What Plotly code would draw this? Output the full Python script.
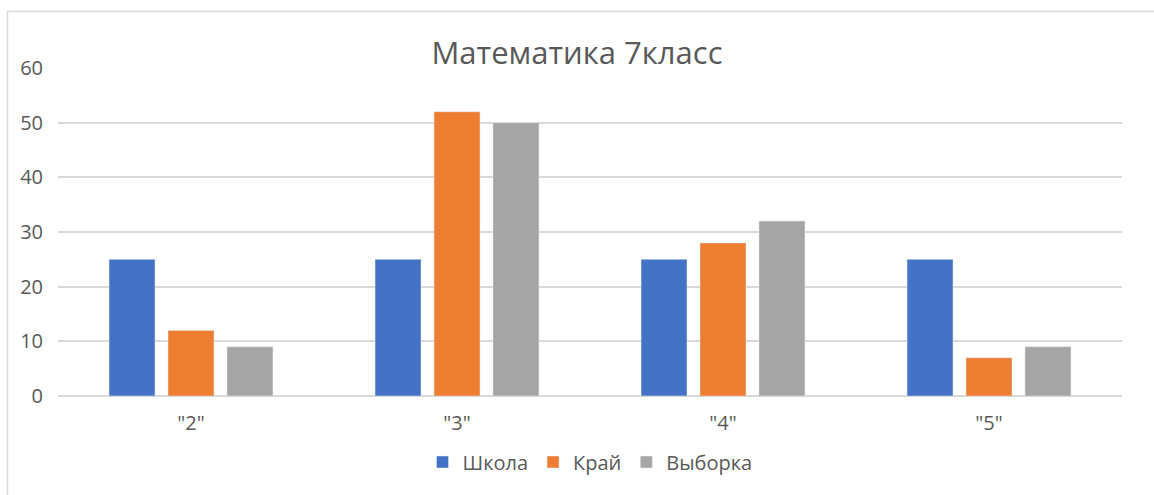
import plotly.graph_objects as go

categories = ['"2"', '"3"', '"4"', '"5"']
shkola = [25, 25, 25, 25]
krai = [12, 52, 28, 7]
vyborka = [9, 50, 32, 9]
y_ticks = [0, 10, 20, 30, 40, 50, 60]

FONT = "Open Sans"
TXT = "#595959"

fig = go.Figure()
fig.add_trace(go.Bar(name="Школа", x=categories, y=shkola, marker_color="#4472C4"))
fig.add_trace(go.Bar(name="Край", x=categories, y=krai, marker_color="#ED7D31"))
fig.add_trace(go.Bar(name="Выборка", x=categories, y=vyborka, marker_color="#A5A5A5"))

L, R, T, B = 58, 32, 68, 99
W, H = 1154, 495
pw, ph = W - L - R, H - T - B

def px2x(px):
    return (px - L) / pw

def py2y(py):
    return (H - B - py) / ph

fig.update_layout(
    width=W, height=H,
    margin=dict(l=L, r=R, t=T, b=B),
    paper_bgcolor="white", plot_bgcolor="white",
    barmode="group", bargap=0.335, bargroupgap=0.22,
    font=dict(family=FONT, color=TXT, size=20),
    title=dict(text="Математика 7класс", x=0.5, xanchor="center",
               y=1 - 53 / H, yanchor="middle",
               font=dict(family=FONT, size=31, color=TXT)),
    xaxis=dict(showgrid=False, showline=False, ticks="",
               ticklabelstandoff=13,
               tickfont=dict(size=20, color=TXT)),
    yaxis=dict(range=[0, 60], tickvals=y_ticks, showgrid=True,
               gridcolor="#d9d9d9", gridwidth=1.5, zeroline=True,
               zerolinecolor="#d9d9d9", zerolinewidth=1.5, showline=False,
               ticks="", ticklabelstandoff=14,
               tickfont=dict(size=20, color=TXT)),
    legend=dict(orientation="h", x=0.5, xanchor="center",
                y=py2y(462), yanchor="middle",
                font=dict(size=20, color=TXT), itemwidth=30,
                traceorder="normal"),
    shapes=[dict(type="rect", xref="paper", yref="paper",
                 x0=px2x(7.5), x1=px2x(1170), y0=py2y(520), y1=py2y(11.5),
                 line=dict(color="#d9d9d9", width=1.5), layer="below")],
)

fig.write_html("out.html", config={"displayModeBar": False},
               post_script="document.body.style.margin='0';document.body.style.overflow='hidden';")
